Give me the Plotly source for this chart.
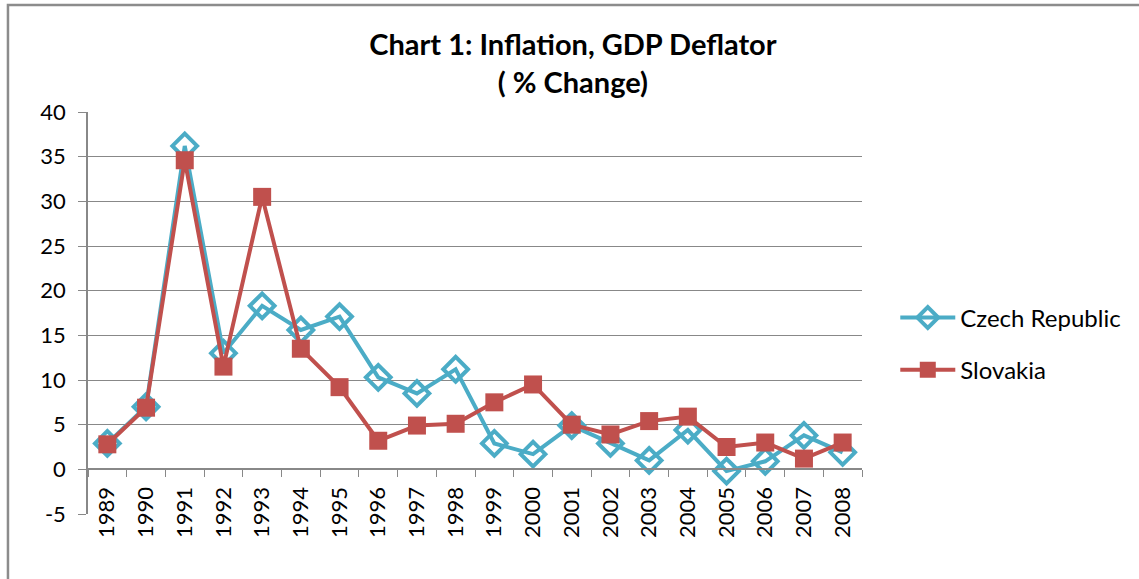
import plotly.graph_objects as go

years = [str(y) for y in range(1989, 2009)]
czech = [2.9, 7.0, 36.2, 13.0, 18.3, 15.6, 17.1, 10.3, 8.5, 11.2,
         2.9, 1.7, 4.9, 2.9, 1.0, 4.4, -0.2, 0.9, 3.8, 1.9]
slovakia = [2.8, 6.9, 34.6, 11.5, 30.5, 13.5, 9.2, 3.2, 4.9, 5.1,
            7.5, 9.5, 5.0, 3.9, 5.4, 5.9, 2.5, 3.0, 1.2, 3.0]
y_ticks = [-5, 0, 5, 10, 15, 20, 25, 30, 35, 40]
y_labels = ["-5", "0", "5", "10", "15", "20", "25", "30", "35", "40"]

FONT = "Lato, 'Open Sans', sans-serif"
GRID = "#888888"

fig = go.Figure()
fig.add_trace(go.Scatter(
    x=years, y=czech, name="Czech Republic", mode="lines+markers",
    legendgroup="cz",
    line=dict(color="#4BACC6", width=4),
    marker=dict(symbol="diamond-open", size=19, color="#4BACC6",
                line=dict(width=4, color="#4BACC6")),
))
fig.add_trace(go.Scatter(
    x=years, y=slovakia, name="Slovakia", mode="lines+markers",
    legendgroup="sk",
    line=dict(color="#C0504D", width=4),
    marker=dict(symbol="square", size=18, color="#C0504D"),
))

fig.update_layout(
    width=1139, height=579,
    margin=dict(l=88, r=277, t=112, b=65, autoexpand=False),
    paper_bgcolor="white", plot_bgcolor="white",
    font=dict(family=FONT, size=22, color="black"),
    title=dict(text="<b>Chart 1: Inflation, GDP Deflator<br>( % Change)</b>",
               x=0.503, xanchor="center", y=0.905, yanchor="top",
               font=dict(size=29, family=FONT)),
    legend=dict(x=1.043, y=0.423, xanchor="left", yanchor="middle",
                font=dict(size=24), itemwidth=55, tracegroupgap=18,
                bgcolor="rgba(0,0,0,0)"),
    showlegend=True,
    shapes=[dict(type="rect", xref="paper", yref="paper",
                 x0=-0.1034, x1=1.5, y0=-0.4, y1=1.266,
                 line=dict(color="#8c8c8c", width=2.5), layer="below")],
)

fig.update_yaxes(
    range=[-5, 40], tickvals=y_ticks, ticktext=y_labels,
    showgrid=True, gridcolor=GRID, gridwidth=1,
    zeroline=False, showline=True, linecolor=GRID, linewidth=1.5,
    ticks="outside", ticklen=8, tickcolor=GRID, fixedrange=True,
    ticklabelstandoff=8, automargin=False,
)
fig.update_xaxes(
    type="category", range=[-0.5, 19.5], anchor="free", position=5 / 45,
    showgrid=False, zeroline=False, showline=True, linecolor=GRID, linewidth=1.5,
    ticks="outside", ticklen=7, tickcolor=GRID, tickson="boundaries",
    tickangle=-90, ticklabelstandoff=8, automargin=False,
)

# drop the default 8px page margin so the figure sits at the window corner
fig.write_html("out.html", config={"displayModeBar": False},
               post_script="document.body.style.margin = '0';")
